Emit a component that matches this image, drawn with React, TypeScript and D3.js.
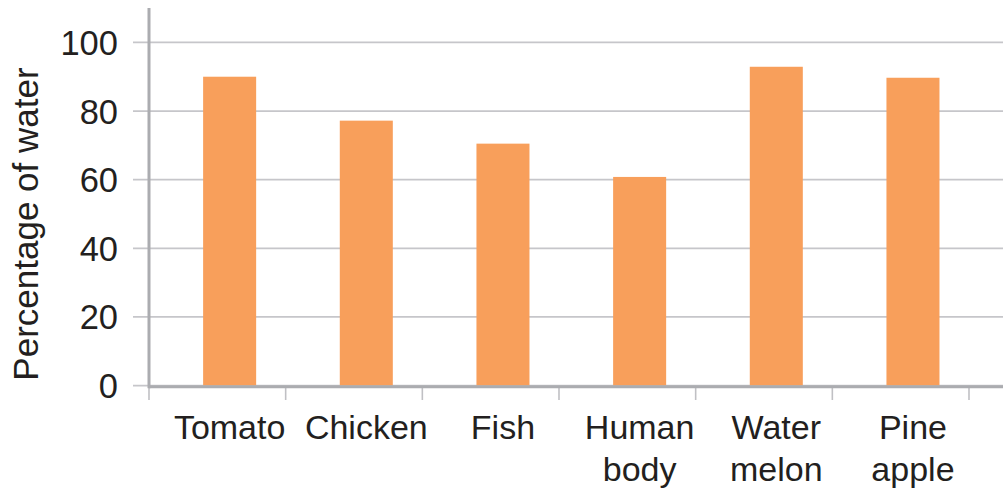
import React from "react";
import * as d3 from "d3";

const categories: string[][] = [["Tomato"], ["Chicken"], ["Fish"], ["Human", "body"], ["Water", "melon"], ["Pine", "apple"]];
const values: number[] = [90, 77.2, 70.5, 60.8, 92.9, 89.7];
const yTicks: number[] = [0, 20, 40, 60, 80, 100];
const yLabel = "Percentage of water";

const W = 1003;
const H = 490;
const FONT = "'Liberation Sans', Arial, Helvetica, sans-serif";
const TEXT = "#231F20";

export default function App() {
  const keys = categories.map((c) => c.join(" "));
  const x = d3.scaleBand<string>().domain(keys).range([149, 969]).padding(0);
  const y = d3.scaleLinear().domain([0, 100]).range([385.6, 42.4]);
  const bw = x.bandwidth();
  const axisX = 149;
  const axisY = y(0) + 1.2;

  return (
    <svg width={W} height={H} style={{ position: "absolute", left: 0, top: 0, display: "block", background: "#fff" }}>
      {yTicks.map((t) => (
        <line key={"g" + t} x1={133} x2={W} y1={y(t)} y2={y(t)} stroke="#C6C6CA" strokeWidth={1.7} />
      ))}
      {values.map((v, i) => (
        <rect
          key={"b" + i}
          x={(x(keys[i]) as number) + bw * 0.396}
          width={bw * 0.388}
          y={y(v)}
          height={y(0) - y(v)}
          fill="#F89F5B"
        />
      ))}
      {[...keys.map((k) => x(k) as number), 969].map((tx, i) => (
        <line key={"xt" + i} x1={tx} x2={tx} y1={axisY} y2={400} stroke="#C0C0C4" strokeWidth={1.6} />
      ))}
      <line x1={axisX} x2={W} y1={axisY} y2={axisY} stroke="#ABACB0" strokeWidth={3} />
      <line x1={axisX} x2={axisX} y1={y(110)} y2={axisY + 1.5} stroke="#ABACB0" strokeWidth={3} />
      {yTicks.map((t) => (
        <text key={"yl" + t} x={118} y={y(t) + 12.5} textAnchor="end" fontFamily={FONT} fontSize={34.5} fill={TEXT}>
          {t}
        </text>
      ))}
      {categories.map((lines, i) => {
        const cx = (x(keys[i]) as number) + bw * 0.59;
        return (
          <text key={"xl" + i} textAnchor="middle" fontFamily={FONT} fontSize={34} fill={TEXT}>
            {lines.map((ln, j) => (
              <tspan key={j} x={cx} y={438.5 + j * 42}>
                {ln}
              </tspan>
            ))}
          </text>
        );
      })}
      <text
        transform={`translate(38, 224) rotate(-90)`}
        textAnchor="middle"
        fontFamily={FONT}
        fontSize={35}
        fill={TEXT}
      >
        {yLabel}
      </text>
    </svg>
  );
}
